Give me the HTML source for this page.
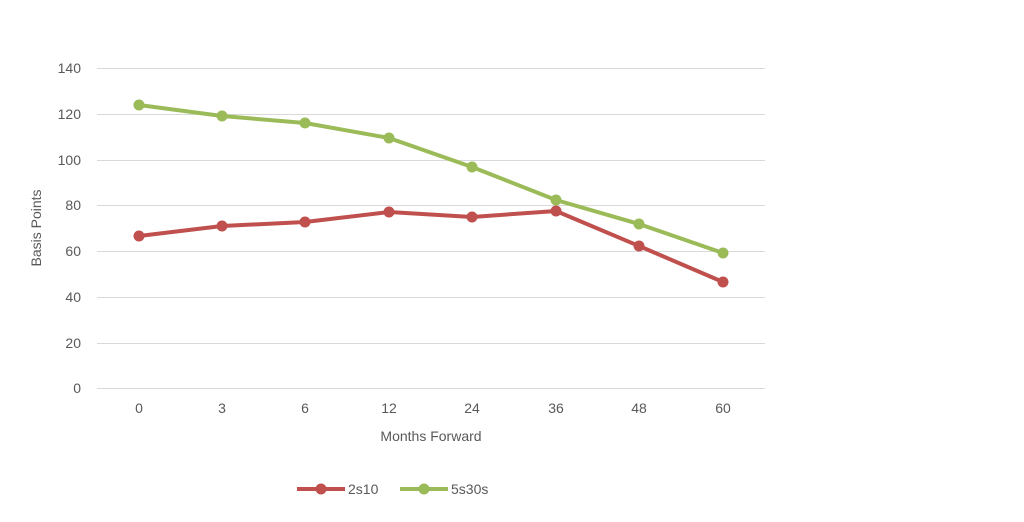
<!DOCTYPE html>
<html><head><meta charset="utf-8"><style>
html,body{margin:0;padding:0;background:#fff;}
svg{display:block;font-family:"Liberation Sans",Arial,sans-serif;}
</style></head><body>
<svg width="1024" height="522" viewBox="0 0 1024 522" xmlns="http://www.w3.org/2000/svg">
<g stroke="#d9d9d9" stroke-width="1">
<line x1="97" y1="68.5" x2="765" y2="68.5"/>
<line x1="97" y1="114.5" x2="765" y2="114.5"/>
<line x1="97" y1="160.5" x2="765" y2="160.5"/>
<line x1="97" y1="205.5" x2="765" y2="205.5"/>
<line x1="97" y1="251.5" x2="765" y2="251.5"/>
<line x1="97" y1="297.5" x2="765" y2="297.5"/>
<line x1="97" y1="343.5" x2="765" y2="343.5"/>
<line x1="97" y1="388.5" x2="765" y2="388.5"/>
</g>
<g font-size="14" fill="#595959" text-anchor="end">
<text x="81" y="73">140</text><text x="81" y="119">120</text><text x="81" y="165">100</text>
<text x="81" y="210">80</text><text x="81" y="256">60</text><text x="81" y="302">40</text>
<text x="81" y="348">20</text><text x="81" y="393">0</text>
</g>
<g font-size="14" fill="#595959" text-anchor="middle">
<text x="139" y="413">0</text><text x="222" y="413">3</text><text x="305" y="413">6</text>
<text x="389" y="413">12</text><text x="472" y="413">24</text><text x="556" y="413">36</text>
<text x="639" y="413">48</text><text x="723" y="413">60</text>
<text x="431" y="441">Months Forward</text>
<text transform="translate(41,228) rotate(-90)">Basis Points</text>
</g>
<polyline fill="none" stroke="#c0504d" stroke-width="4" stroke-linejoin="round" points="139,236 222,226 305,222 389,212 472,217 556,211 639,246 723,282"/>
<g fill="#c0504d">
<circle cx="139" cy="236" r="5.5"/><circle cx="222" cy="226" r="5.5"/><circle cx="305" cy="222" r="5.5"/><circle cx="389" cy="212" r="5.5"/><circle cx="472" cy="217" r="5.5"/><circle cx="556" cy="211" r="5.5"/><circle cx="639" cy="246" r="5.5"/><circle cx="723" cy="282" r="5.5"/>
</g>
<polyline fill="none" stroke="#9bbb59" stroke-width="4" stroke-linejoin="round" points="139,105 222,116 305,123 389,138 472,167 556,200 639,224 723,253"/>
<g fill="#9bbb59">
<circle cx="139" cy="105" r="5.5"/><circle cx="222" cy="116" r="5.5"/><circle cx="305" cy="123" r="5.5"/><circle cx="389" cy="138" r="5.5"/><circle cx="472" cy="167" r="5.5"/><circle cx="556" cy="200" r="5.5"/><circle cx="639" cy="224" r="5.5"/><circle cx="723" cy="253" r="5.5"/>
</g>
<line x1="297" y1="489" x2="345" y2="489" stroke="#c0504d" stroke-width="4"/>
<circle cx="321" cy="489" r="5.5" fill="#c0504d"/>
<text x="348" y="494" font-size="14" fill="#595959">2s10</text>
<line x1="400" y1="489" x2="448" y2="489" stroke="#9bbb59" stroke-width="4"/>
<circle cx="424" cy="489" r="5.5" fill="#9bbb59"/>
<text x="451" y="494" font-size="14" fill="#595959">5s30s</text>
</svg>
</body></html>
